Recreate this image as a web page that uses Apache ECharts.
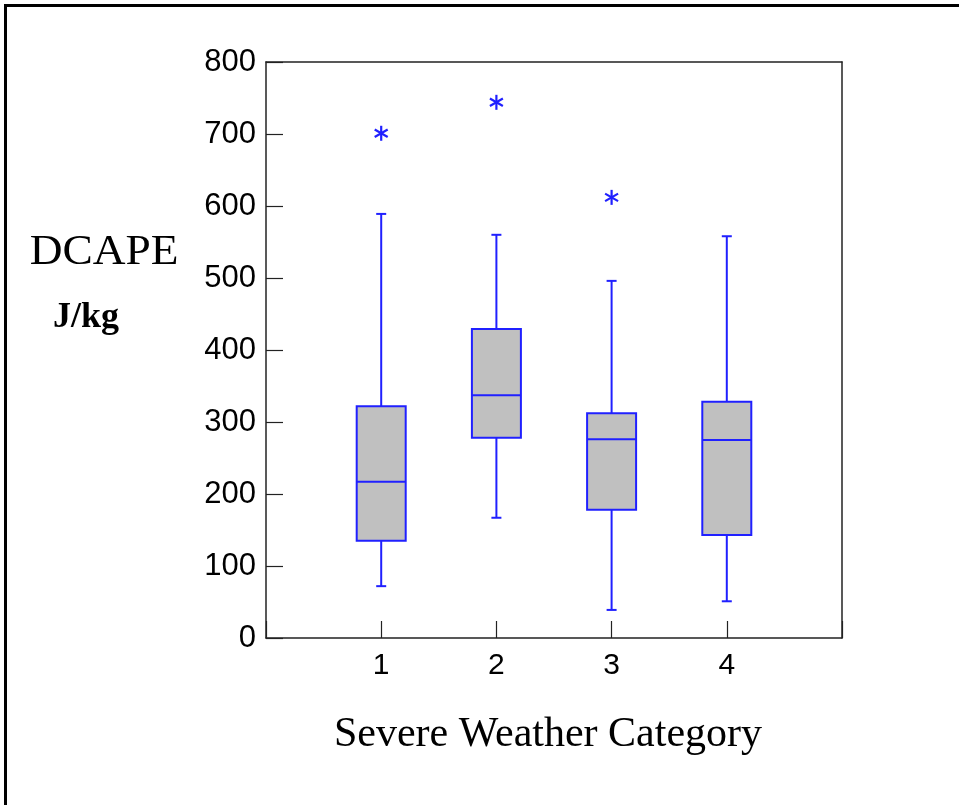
<!DOCTYPE html>
<html>
<head>
<meta charset="utf-8">
<script src="https://cdn.jsdelivr.net/npm/echarts@6/dist/echarts.min.js"></script>
<style>html,body{margin:0;padding:0;background:#fff;}#c{width:959px;height:805px;}</style>
</head>
<body>
<div id="c"></div>
<script>
var categories = [1, 2, 3, 4];
var whiskerLow = [72, 167, 39, 51];
var q1 = [135, 278, 178, 143];
var median = [217, 337, 276, 275];
var q3 = [322, 429, 312, 328];
var whiskerHigh = [589, 560, 496, 558];
var outliers = [[1, 701], [2, 744], [3, 612]];
var yTicks = [0, 100, 200, 300, 400, 500, 600, 700, 800];

var BLUE = '#2020ff';
var chart = echarts.init(document.getElementById('c'));

var boxData = categories.map(function (c, i) {
  return [c, whiskerLow[i], q1[i], median[i], q3[i], whiskerHigh[i]];
});

function renderBox(params, api) {
  var x = api.value(0);
  var pLow = api.coord([x, api.value(1)]);
  var pQ1 = api.coord([x, api.value(2)]);
  var pMed = api.coord([x, api.value(3)]);
  var pQ3 = api.coord([x, api.value(4)]);
  var pHigh = api.coord([x, api.value(5)]);
  var cx = pLow[0];
  var hw = 24.5, cap = 5;
  var ls = {stroke: BLUE, lineWidth: 2, fill: null};
  return {
    type: 'group',
    children: [
      {type: 'line', shape: {x1: cx, y1: pHigh[1], x2: cx, y2: pQ3[1]}, style: ls},
      {type: 'line', shape: {x1: cx, y1: pQ1[1], x2: cx, y2: pLow[1]}, style: ls},
      {type: 'line', shape: {x1: cx - cap, y1: pHigh[1], x2: cx + cap, y2: pHigh[1]}, style: ls},
      {type: 'line', shape: {x1: cx - cap, y1: pLow[1], x2: cx + cap, y2: pLow[1]}, style: ls},
      {type: 'rect', shape: {x: cx - hw, y: pQ3[1], width: 2 * hw, height: pQ1[1] - pQ3[1]},
        style: {fill: '#c0c0c0', stroke: BLUE, lineWidth: 2}},
      {type: 'line', shape: {x1: cx - hw, y1: pMed[1], x2: cx + hw, y2: pMed[1]}, style: ls}
    ]
  };
}

function renderStar(params, api) {
  var p = api.coord([api.value(0), api.value(1)]);
  var r = 7.5;
  var ls = {stroke: BLUE, lineWidth: 2.2};
  var a = Math.cos(Math.PI / 6) * r, b = Math.sin(Math.PI / 6) * r;
  return {
    type: 'group',
    children: [
      {type: 'line', shape: {x1: p[0], y1: p[1] - r, x2: p[0], y2: p[1] + r}, style: ls},
      {type: 'line', shape: {x1: p[0] - a, y1: p[1] - b, x2: p[0] + a, y2: p[1] + b}, style: ls},
      {type: 'line', shape: {x1: p[0] - a, y1: p[1] + b, x2: p[0] + a, y2: p[1] - b}, style: ls}
    ]
  };
}

var axisLineStyle = {color: '#222', width: 1.5};

chart.setOption({
  animation: false,
  backgroundColor: '#fff',
  grid: {left: 266, top: 62, right: 117, bottom: 167},
  xAxis: [{
    type: 'value', min: 0, max: 5, interval: 1,
    axisLine: {lineStyle: axisLineStyle},
    axisTick: {inside: true, length: 17, lineStyle: {color: '#222', width: 1.2}},
    axisLabel: {
      fontFamily: 'Liberation Sans, Arial, sans-serif', fontSize: 30, color: '#000', margin: 13,
      formatter: function (v) { return categories.indexOf(v) >= 0 ? String(v) : ''; }
    },
    splitLine: {show: false}
  }, {
    type: 'value', min: 0, max: 5, position: 'top',
    axisLine: {show: true, onZero: false, lineStyle: axisLineStyle},
    axisTick: {show: false}, axisLabel: {show: false}, splitLine: {show: false}
  }],
  yAxis: [{
    type: 'value', min: yTicks[0], max: yTicks[yTicks.length - 1], interval: 100,
    axisLine: {show: true, lineStyle: axisLineStyle},
    axisTick: {inside: true, length: 17, lineStyle: {color: '#222', width: 1.2}},
    axisLabel: {fontFamily: 'Liberation Sans, Arial, sans-serif', fontSize: 31, color: '#000', margin: 10},
    splitLine: {show: false}
  }, {
    type: 'value', min: 0, max: 800, position: 'right',
    axisLine: {show: true, onZero: false, lineStyle: axisLineStyle},
    axisTick: {show: false}, axisLabel: {show: false}, splitLine: {show: false}
  }],
  series: [{
    type: 'custom', renderItem: renderBox, data: boxData,
    encode: {x: 0, y: [1, 2, 3, 4, 5]}, clip: false
  }, {
    type: 'custom', renderItem: renderStar, data: outliers,
    encode: {x: 0, y: 1}, clip: false
  }],
  graphic: [
    {type: 'rect', shape: {x: 4, y: 4, width: 955, height: 3}, style: {fill: '#000'}},
    {type: 'rect', shape: {x: 4, y: 4, width: 3, height: 801}, style: {fill: '#000'}},
    {type: 'text', x: 104, y: 253, scaleX: 1.08,
      style: {text: 'DCAPE', font: '42px "Liberation Serif", "Times New Roman", serif', fill: '#000',
        textAlign: 'center', textVerticalAlign: 'middle'}},
    {type: 'text', x: 86, y: 318,
      style: {text: 'J/kg', font: 'bold 36px "Liberation Serif", "Times New Roman", serif', fill: '#000',
        textAlign: 'center', textVerticalAlign: 'middle'}},
    {type: 'text', x: 548, y: 735,
      style: {text: 'Severe Weather Category', font: '42px "Liberation Serif", "Times New Roman", serif', fill: '#000',
        textAlign: 'center', textVerticalAlign: 'middle'}}
  ]
});
</script>
</body>
</html>
